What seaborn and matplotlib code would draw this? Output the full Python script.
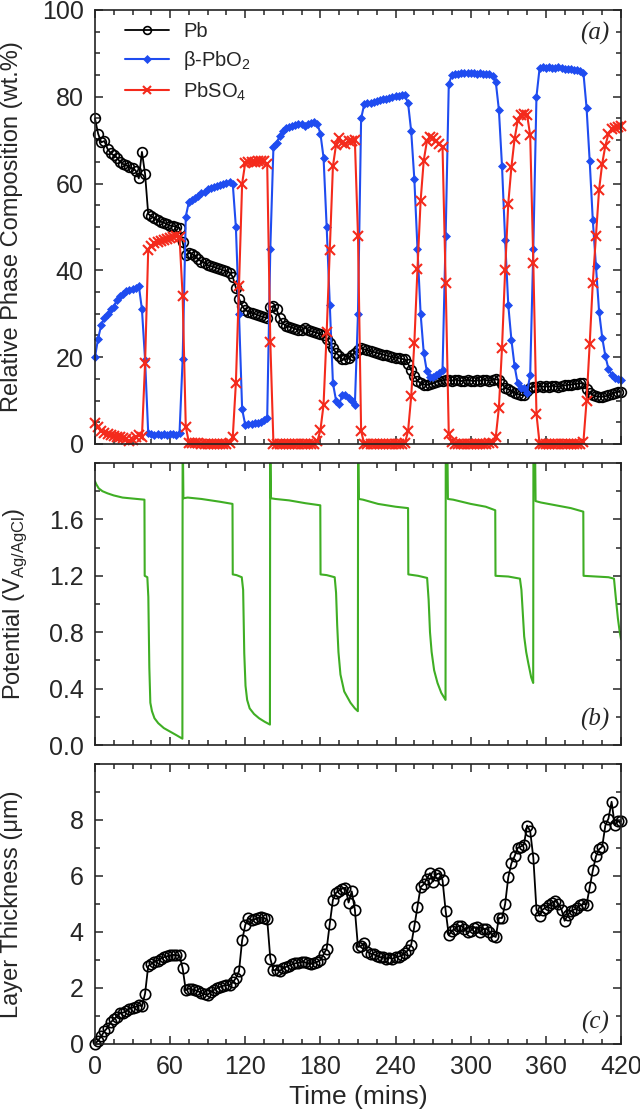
import numpy as np
import pandas as pd
import matplotlib
matplotlib.use("Agg")
import matplotlib.pyplot as plt
import seaborn as sns
from matplotlib.ticker import MultipleLocator, FixedLocator

# sampling grid of the diffraction scans (mins)
time = np.arange(0, 420.1, 2.5)

# relative phase composition (wt.%), one row = 30 min
pb = [75, 71.5, 69.5, 69.8, 68, 67, 66.5, 66, 65, 64.5, 64.2, 63.8,
      63.5, 63, 61.2, 67.3, 62.2, 53, 52.5, 52, 51.5, 51.2, 51, 50.6,
      50.3, 50.2, 50, 49.8, 46.5, 43.5, 44, 43.8, 43.2, 42.6, 42, 41.8,
      41.2, 41, 40.8, 40.5, 40.3, 40, 39.8, 39.5, 38.5, 36, 33.5, 31.8,
      30.8, 30.5, 30.2, 30, 29.7, 29.4, 29.2, 29, 31.5, 31.8, 31, 29,
      27.8, 27.2, 27, 26.8, 26.5, 26.3, 26.2, 26.8, 26.3, 26, 25.8, 25.6,
      25.3, 25, 24.3, 23.2, 22, 21, 20.3, 19.5, 19.5, 19.8, 20.5, 21,
      21.6, 22, 21.8, 21.6, 21.4, 21.2, 21, 20.8, 20.6, 20.4, 20.2, 20,
      19.9, 19.8, 19.6, 19.5, 18.5, 17, 15.7, 14.6, 14, 13.7, 13.6, 13.8,
      14, 14.3, 14.5, 14.6, 14.8, 14.7, 14.6, 14.8, 14.7, 14.5, 14.6, 14.7,
      14.6, 14.5, 14.7, 14.6, 14.8, 14.7, 14.6, 14.8, 14.9, 14.7, 13.8, 13,
      12.6, 12.2, 11.8, 11.5, 11.3, 11.2, 12.3, 12.9, 13.2, 13.1, 13.3, 13.2,
      13.3, 13.2, 13.4, 13.3, 13.2, 13.4, 13.5, 13.6, 13.7, 13.8, 13.9, 14,
      14, 12.6, 11.8, 11.3, 11, 10.9, 10.9, 11, 11.2, 11.5, 11.8, 12,
      12]

pbo2 = [20, 24.3, 27.4, 29, 30, 31, 31.6, 33.2, 34, 34.6, 35.2, 35.5,
        35.7, 36, 36.5, 31, 19.4, 2.5, 2.2, 2.1, 2.3, 2, 2.2, 2.1,
        2.2, 2.4, 2.1, 2.5, 19.5, 52.4, 55.8, 56.2, 56.6, 57.2, 57.9, 58.1,
        58.7, 58.9, 59.1, 59.4, 59.6, 59.9, 60.1, 60.3, 60, 50, 30, 8,
        4.4, 4.6, 4.7, 4.8, 4.9, 5.1, 5.5, 5.9, 45, 68.5, 69.3, 71,
        72.2, 72.8, 73, 73.2, 73.5, 73.7, 73.8, 73.2, 73.7, 74, 74.2, 73.8,
        71.5, 66, 50, 32, 14, 10, 9.2, 11.2, 11.3, 10.5, 9.8, 9,
        30, 75, 78.3, 78.5, 78.6, 78.8, 79, 79.2, 79.4, 79.6, 79.8, 80,
        80.1, 80.2, 80.4, 80.3, 78.5, 72, 61, 45, 30, 21, 16.7, 15.5,
        15.4, 16, 16.4, 17, 48, 83, 85, 85.2, 85.3, 85.4, 85.5, 85.4,
        85.4, 85.5, 85.3, 85.4, 85.2, 85.3, 85.2, 84.9, 83.5, 77, 64, 47,
        32, 24, 18, 14, 13, 12.8, 11.8, 16, 45, 80, 86.6, 86.8,
        86.7, 86.8, 86.6, 86.7, 86.8, 86.6, 86.5, 86.4, 86.3, 86.2, 86.1, 86,
        85.5, 77.5, 65.2, 51.5, 41, 30.5, 24.5, 20.3, 17.3, 16, 15.3, 15,
        14.7]

pbso4 = [4.8, 4.0, 3.1, 2.5, 2.2, 2.0, 1.8, 1.6, 1.5, 1.3, 1.2, 0.7,
         0.8, 1.5, 2.0, 1.7, 18.6, 44.7, 45.6, 46.2, 46.5, 46.8, 47, 47.3,
         47.5, 47.6, 48, 47.7, 34, 4, 0.3, 0.2, 0.2, 0.2, 0.1, 0.1,
         0.1, 0.1, 0.1, 0.1, 0.1, 0.1, 0.1, 0.2, 1.5, 14, 36.5, 60,
         64.8, 64.9, 65, 65, 65.1, 65.2, 65.1, 64.6, 23.5, 0, 0, 0,
         0, 0, 0, 0, 0, 0, 0, 0, 0, 0, 0, 0.6,
         3.2, 9, 25.7, 44.8, 64, 69, 70.5, 69.3, 69.2, 69.7, 69.7, 70,
         48, 3, 0, 0, 0, 0, 0, 0, 0, 0, 0, 0,
         0, 0, 0, 0.2, 3, 11, 23.3, 40.4, 56, 65.3, 69.7, 70.7,
         70.6, 69.7, 69.1, 68.4, 37.2, 2.3, 0.4, 0, 0, 0, 0, 0,
         0, 0, 0, 0, 0, 0, 0.2, 0.3, 1.6, 8.3, 22.2, 40,
         55.4, 63.8, 70.2, 74.5, 75.7, 76, 75.9, 71.1, 41.8, 6.9, 0.1, 0,
         0, 0, 0, 0, 0, 0, 0, 0, 0, 0, 0, 0,
         0.5, 9.9, 23, 37.2, 48, 58.6, 64.6, 68.7, 71.5, 72.5, 72.9, 73,
         73.3]

# layer thickness (um)
thickness = [0, 0.12, 0.28, 0.45, 0.58, 0.77, 0.88, 0.98, 1.1, 1.12, 1.17, 1.26,
             1.3, 1.33, 1.38, 1.35, 1.8, 2.78, 2.86, 2.93, 2.98, 3.04, 3.1, 3.13,
             3.16, 3.18, 3.17, 3.16, 2.7, 1.92, 1.98, 1.95, 1.92, 1.88, 1.82, 1.78,
             1.76, 1.85, 1.93, 2.0, 2.04, 2.08, 2.1, 2.1, 2.2, 2.35, 2.6, 3.7,
             4.25, 4.5, 4.42, 4.45, 4.5, 4.52, 4.5, 4.45, 3.05, 2.63, 2.65, 2.6,
             2.7, 2.75, 2.8, 2.85, 2.88, 2.9, 2.93, 2.92, 2.88, 2.86, 2.9, 2.93,
             3.0, 3.2, 3.4, 4.3, 5.15, 5.4, 5.48, 5.55, 5.58, 5.05, 5.45, 4.8,
             3.46, 3.5, 3.6, 3.3, 3.22, 3.2, 3.15, 3.1, 3.1, 3.05, 3.08, 3.04,
             3.1, 3.12, 3.16, 3.25, 3.35, 3.55, 4.2, 4.9, 5.6, 5.7, 5.9, 6.1,
             5.8, 6.05, 6.1, 5.85, 4.75, 3.88, 4.05, 4.1, 4.2, 4.22, 4.1, 4.0,
             4.05, 4.15, 4.17, 4.0, 4.1, 4.12, 4.0, 3.87, 3.82, 4.5, 4.5, 5.0,
             5.95, 6.45, 6.7, 7.0, 7.05, 7.12, 7.8, 7.6, 6.65, 4.8, 4.58, 4.8,
             4.87, 4.95, 5.05, 5.1, 5.0, 4.8, 4.4, 4.6, 4.75, 4.8, 4.85, 4.95,
             5.0, 4.98, 5.6, 6.2, 6.7, 6.95, 7.05, 7.8, 8.05, 8.65, 7.82, 7.95,
             7.95]

# electrode potential trace (V vs Ag/AgCl), read at its corners
pot_time = [0, 1, 3, 6, 10, 15, 22, 30, 39.5,
            39.7, 41.8, 42.6, 43.4, 44.2, 45.5, 47.5, 50.5, 55, 60, 65, 69.8,
            70.0, 70.6, 74, 85, 100, 109.8,
            110.0, 113, 117.2, 118.3, 119.2, 120.2, 121.5, 123.5, 127, 131, 135.5, 139.7,
            139.9, 140.5, 144, 155, 168, 179.9,
            180.1, 185, 191.4, 192.5, 193.4, 194.4, 196, 199, 204, 207.5, 209.9,
            210.1, 210.7, 214, 226, 240, 250.0,
            250.2, 258, 265.2, 266.4, 267.5, 268.8, 270.8, 273.5, 276.5, 279.9,
            280.1, 281.2, 281.8, 286, 300, 312, 319.6,
            319.8, 330, 339.3, 340.5, 341.5, 342.7, 344.3, 346, 348.3, 349.9,
            350.1, 351.2, 351.8, 356, 368, 380, 389.9,
            390.1, 400, 410, 414.4, 415.8, 417.5, 419, 420]
pot_value = [1.87, 1.85, 1.82, 1.80, 1.785, 1.77, 1.755, 1.748, 1.74,
             1.20, 1.19, 1.05, 0.55, 0.30, 0.24, 0.19, 0.155, 0.12, 0.095, 0.07, 0.045,
             2.3, 1.75, 1.755, 1.745, 1.725, 1.71,
             1.21, 1.205, 1.19, 1.10, 0.65, 0.42, 0.32, 0.26, 0.22, 0.19, 0.165, 0.145,
             2.3, 1.75, 1.745, 1.735, 1.715, 1.70,
             1.21, 1.205, 1.19, 1.08, 0.85, 0.66, 0.50, 0.38, 0.30, 0.26, 0.24,
             2.3, 1.745, 1.74, 1.71, 1.69, 1.68,
             1.21, 1.20, 1.185, 1.03, 0.80, 0.66, 0.53, 0.44, 0.37, 0.32,
             2.3, 2.3, 1.745, 1.74, 1.71, 1.69, 1.665,
             1.20, 1.195, 1.18, 1.10, 0.95, 0.77, 0.66, 0.58, 0.48, 0.44,
             2.3, 2.3, 1.73, 1.72, 1.70, 1.68, 1.655,
             1.20, 1.195, 1.19, 1.18, 1.05, 0.90, 0.80, 0.75]

BLUE = "#1f4cf0"
RED = "#f42a1c"
GREEN = "#3fae24"

sns.set_style("ticks")
plt.rcParams["font.family"] = ["Liberation Sans", "DejaVu Sans"]
plt.rcParams["mathtext.fontset"] = "custom"
plt.rcParams["mathtext.rm"] = "Liberation Sans"
plt.rcParams["axes.linewidth"] = 1.2
plt.rcParams["axes.edgecolor"] = "#222222"

phases = pd.DataFrame({"time": time, "Pb": pb, "PbO2": pbo2, "PbSO4": pbso4,
                       "thickness": thickness})
potential = pd.DataFrame({"time": pot_time, "potential": pot_value})

fig = plt.figure(figsize=(6.4, 11.2), dpi=100)
ax_a = fig.add_axes([0.1484, 0.6036, 0.8219, 0.3875])
ax_b = fig.add_axes([0.1484, 0.3348, 0.8219, 0.2518])
ax_c = fig.add_axes([0.1484, 0.0679, 0.8219, 0.2500])

# (a) phase composition
sns.lineplot(data=phases, x="time", y="Pb", ax=ax_a, color="black", lw=1.3,
             marker="o", markersize=7, markerfacecolor="none",
             markeredgecolor="black", markeredgewidth=1.2,
             estimator=None, sort=False, clip_on=False, label="Pb")
sns.lineplot(data=phases, x="time", y="PbO2", ax=ax_a, color=BLUE, lw=1.5,
             marker="D", markersize=4.5, markeredgecolor=BLUE,
             markeredgewidth=0.5, estimator=None, sort=False, clip_on=False,
             label="\u03b2-PbO$_{\\mathrm{2}}$")
sns.lineplot(data=phases, x="time", y="PbSO4", ax=ax_a, color=RED, lw=1.5,
             marker="x", markersize=6.5, markeredgecolor=RED,
             markeredgewidth=1.5, estimator=None, sort=False, clip_on=False,
             label="PbSO$_{\\mathrm{4}}$")
ax_a.set_ylim(0, 100)
ax_a.yaxis.set_major_locator(MultipleLocator(20))
ax_a.yaxis.set_minor_locator(MultipleLocator(5))
ax_a.set_ylabel("Relative Phase Composition (wt.%)", fontsize=17)
ax_a.legend(loc="upper left", bbox_to_anchor=(0.057, 0.972), frameon=False,
            fontsize=14.5, borderpad=0, borderaxespad=0, handlelength=2.2,
            handletextpad=0.7, labelspacing=0.4, markerscale=0.8)

# (b) potential
sns.lineplot(data=potential, x="time", y="potential", ax=ax_b, color=GREEN,
             lw=1.5, estimator=None, sort=False)
ax_b.set_ylim(0, 2.0)
ax_b.yaxis.set_major_locator(FixedLocator([0.0, 0.4, 0.8, 1.2, 1.6]))
ax_b.yaxis.set_minor_locator(MultipleLocator(0.2))
ax_b.yaxis.set_major_formatter(plt.FormatStrFormatter("%.1f"))
ax_b.set_ylabel(r"Potential (V$_{\mathrm{Ag/AgCl}}$)", fontsize=17)

# (c) layer thickness
sns.lineplot(data=phases, x="time", y="thickness", ax=ax_c, color="black",
             lw=1.3, marker="o", markersize=7.5, markerfacecolor="none",
             markeredgecolor="black", markeredgewidth=1.2,
             estimator=None, sort=False, clip_on=False)
ax_c.set_ylim(0, 10)
ax_c.yaxis.set_major_locator(FixedLocator([0, 2, 4, 6, 8]))
ax_c.yaxis.set_minor_locator(MultipleLocator(1))
ax_c.set_ylabel("Layer Thickness (\u03bcm)", fontsize=17)
ax_c.set_xlabel("Time (mins)", fontsize=19)

panel_tags = [(ax_a, "(a)", 0.947, -0.137), (ax_b, "(b)", 0.089, -0.126),
              (ax_c, "(c)", 0.075, -0.137)]
for ax, tag, ypos, label_x in panel_tags:
    ax.set_xlim(0, 420)
    ax.xaxis.set_major_locator(MultipleLocator(60))
    ax.xaxis.set_minor_locator(MultipleLocator(15))
    ax.tick_params(which="both", direction="in", top=True, right=True,
                   labelsize=18, pad=8, width=1.1)
    ax.tick_params(which="major", length=6)
    ax.tick_params(which="minor", length=3.5)
    ax.yaxis.set_label_coords(label_x, 0.5)
    ax.text(0.978, ypos, tag, transform=ax.transAxes, ha="right", va="center",
            fontsize=18, family="Liberation Serif", style="italic")
    if ax is not ax_c:
        ax.tick_params(labelbottom=False)
        ax.set_xlabel("")

fig.savefig("out.png", dpi=100)
